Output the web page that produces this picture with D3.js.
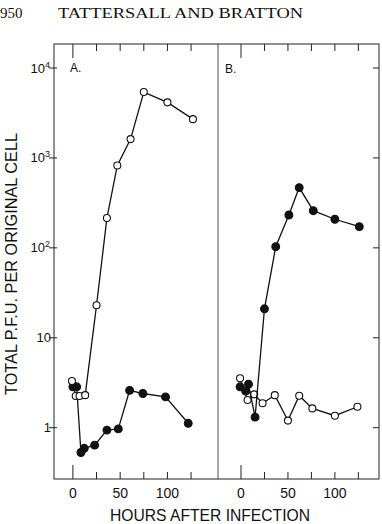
<!DOCTYPE html>
<html>
<head>
<meta charset="utf-8">
<script src="https://cdn.jsdelivr.net/npm/d3@7"></script>
<style>
  body { margin: 0; background: #fff; }
  svg { display: block; }
  text { font-family: "Liberation Sans", Arial, sans-serif; fill: #111; }
</style>
</head>
<body>
<div id="chart"></div>
<script>
// values: [hours, total pfu per original cell]
var aOpen = [[-1, 3.3], [3, 2.25], [7, 2.25], [13, 2.3], [25, 23], [36, 215], [47, 825], [61, 1620], [75, 5400], [100, 4150], [127, 2700]];
var aFilled = [[0, 2.85], [4, 2.85], [8.5, 0.53], [12, 0.59], [23, 0.64], [36, 0.94], [48, 0.97], [60, 2.6], [74, 2.4], [98, 2.2], [122, 1.12]];
var bOpen = [[-1, 3.55], [7, 2.03], [14, 2.35], [23, 1.87], [36, 2.3], [50, 1.2], [62, 2.27], [76, 1.64], [100, 1.36], [124, 1.71]];
var bFilled = [[-1, 2.85], [5, 2.55], [8, 3.05], [15, 1.31], [25, 21], [37, 103], [51, 232], [62, 468], [77, 259], [100, 208], [126, 172]];

var hourTicks = [0, 25, 50, 75, 100, 125];
var hourLabels = [0, 50, 100];
var decades = [1, 10, 100, 1000, 10000];

var W = 382, H = 524;
var top_ = 44, bottom = 479, left = 54, mid = 218, right = 379;

var svg = d3.select("#chart").append("svg")
  .attr("width", W).attr("height", H);

// header of the journal page
svg.append("text").attr("x", 0).attr("y", 18).text("950")
  .style("font-family", "'Liberation Serif', serif").style("font-size", "15px");
svg.append("text").attr("x", 58).attr("y", 18).text("TATTERSALL AND BRATTON")
  .attr("textLength", 245).attr("lengthAdjust", "spacingAndGlyphs")
  .style("font-family", "'Liberation Serif', serif").style("font-size", "15px");

var y = d3.scaleLog().domain([1, 10000]).range([427.7, 68]);
var xA = d3.scaleLinear().domain([-20, 153.5]).range([left, mid]);
var xB = d3.scaleLinear().domain([-24.5, 147]).range([mid, right]);

// frame
var frame = svg.append("g").attr("stroke", "#222").attr("stroke-width", 1).attr("fill", "none");
frame.append("rect").attr("x", left).attr("y", top_).attr("width", right - left).attr("height", bottom - top_);
frame.append("line").attr("x1", mid).attr("x2", mid).attr("y1", top_).attr("y2", bottom).attr("stroke-width", 0.8);

// x ticks on both panels, bottom and top
[xA, xB].forEach(function(x) {
  hourTicks.forEach(function(t) {
    var len = t === 0 ? 14 : 7;
    frame.append("line").attr("x1", x(t)).attr("x2", x(t)).attr("y1", bottom).attr("y2", bottom - len);
    frame.append("line").attr("x1", x(t)).attr("x2", x(t)).attr("y1", top_).attr("y2", top_ + len);
  });
  hourLabels.forEach(function(t) {
    svg.append("text").attr("x", x(t)).attr("y", 498).attr("text-anchor", "middle")
      .style("font-size", "14px").text(t);
  });
});

// y ticks left and right
decades.forEach(function(d) {
  frame.append("line").attr("x1", left - 5).attr("x2", left + 3).attr("y1", y(d)).attr("y2", y(d));
  frame.append("line").attr("x1", right - 6).attr("x2", right).attr("y1", y(d)).attr("y2", y(d));
  var exp = Math.round(Math.log10(d));
  var t = svg.append("text").attr("y", y(d) + 4.5).attr("text-anchor", "end").style("font-size", "13px");
  if (exp <= 1) {
    t.attr("x", 51).text(d);
  } else {
    t.attr("x", 50).text("10");
    t.append("tspan").attr("dy", -5).style("font-size", "9px").text(exp);
  }
});

// axis titles
svg.append("text").attr("x", 210).attr("y", 521).attr("text-anchor", "middle")
  .attr("textLength", 200).attr("lengthAdjust", "spacingAndGlyphs")
  .style("font-size", "17px").text("HOURS AFTER INFECTION");
svg.append("text").attr("transform", "translate(17,264) rotate(-90)").attr("text-anchor", "middle")
  .attr("textLength", 262).attr("lengthAdjust", "spacingAndGlyphs")
  .style("font-size", "17px").text("TOTAL P.F.U. PER ORIGINAL CELL");

// panel letters
svg.append("text").attr("x", 70).attr("y", 72).style("font-size", "12px").text("A.");
svg.append("text").attr("x", 225).attr("y", 73).style("font-size", "12px").text("B.");

function series(data, x, filled) {
  var line = d3.line().x(function(d) { return x(d[0]); }).y(function(d) { return y(d[1]); });
  svg.append("path").datum(data).attr("d", line)
    .attr("fill", "none").attr("stroke", "#111").attr("stroke-width", 1.3);
  svg.append("g").selectAll("circle").data(data).enter().append("circle")
    .attr("cx", function(d) { return x(d[0]); })
    .attr("cy", function(d) { return y(d[1]); })
    .attr("r", filled ? 3.9 : 3.5)
    .attr("fill", filled ? "#111" : "#fff")
    .attr("stroke", "#111").attr("stroke-width", 1.1);
}

series(aFilled, xA, true);
series(aOpen, xA, false);
series(bOpen, xB, false);
series(bFilled, xB, true);
</script>
</body>
</html>
